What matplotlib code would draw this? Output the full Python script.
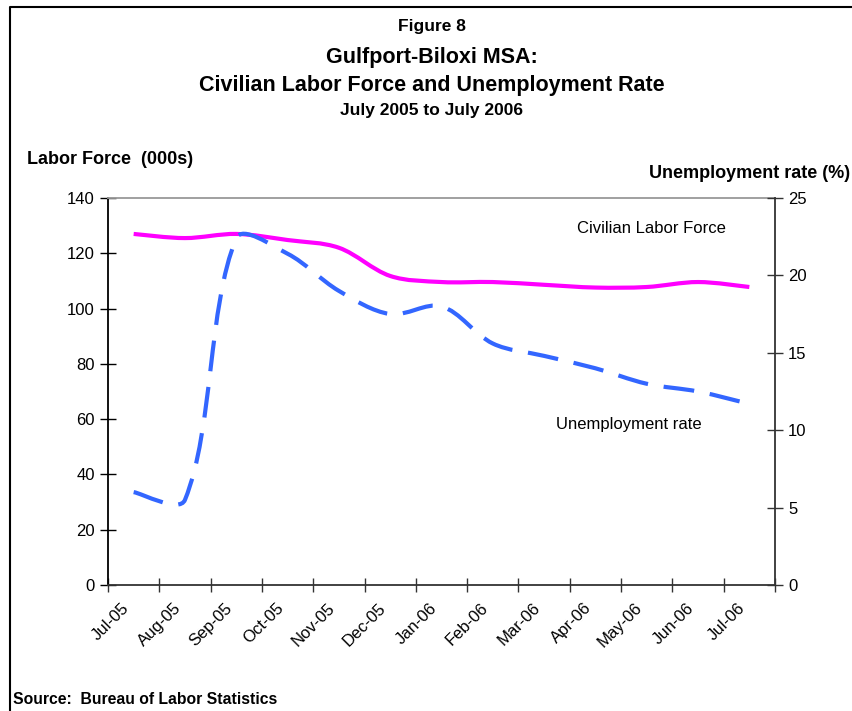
import numpy as np
import matplotlib
matplotlib.use("Agg")
import matplotlib.pyplot as plt
from matplotlib.path import Path
from matplotlib.patches import PathPatch
from matplotlib.lines import Line2D
from matplotlib.transforms import ScaledTranslation

plt.rcParams['font.family'] = ['Liberation Sans', 'DejaVu Sans']

# ---- data ----
months = ['Jul-05', 'Aug-05', 'Sep-05', 'Oct-05', 'Nov-05', 'Dec-05', 'Jan-06',
          'Feb-06', 'Mar-06', 'Apr-06', 'May-06', 'Jun-06', 'Jul-06']
labor_force = [127.0, 125.5, 127.0, 124.8, 122.0, 111.8, 109.6, 109.6, 108.6,
               107.6, 107.8, 109.6, 107.8]
unemp_rate = [6.0, 5.5, 22.4, 21.4, 19.0, 17.5, 18.0, 15.6, 14.8, 14.0, 13.0,
              12.5, 11.7]

lf_ticks = [0, 20, 40, 60, 80, 100, 120, 140]
ur_ticks = [0, 5, 10, 15, 20, 25]

FIG_W, FIG_H = 853, 711
AX_L, AX_R, AX_T, AX_B = 108, 775, 198, 585


def smooth_path(xs, ys, sx, sy):
    """Excel-like smoothed line: cubic Bezier through the points, tangent
    lengths proportional to adjacent segment lengths (on screen)."""
    xs = np.asarray(xs, float)
    ys = np.asarray(ys, float)
    n = len(xs)
    d = np.hypot(np.diff(xs) * sx, np.diff(ys) * sy)
    out_c, in_c = [], []
    for i in range(n):
        i0 = max(i - 1, 0)
        i1 = min(i + 1, n - 1)
        tx, ty = xs[i1] - xs[i0], ys[i1] - ys[i0]
        dl = d[i - 1] if i > 0 else d[0]
        dr = d[i] if i < n - 1 else d[-1]
        fo = dr / (dl + dr) / 3.0
        fi = dl / (dl + dr) / 3.0
        if i == 0 or i == n - 1:
            fo = fi = 1 / 6.0
        out_c.append((xs[i] + tx * fo, ys[i] + ty * fo))
        in_c.append((xs[i] - tx * fi, ys[i] - ty * fi))
    verts = [(xs[0], ys[0])]
    codes = [Path.MOVETO]
    for i in range(n - 1):
        verts += [out_c[i], in_c[i + 1], (xs[i + 1], ys[i + 1])]
        codes += [Path.CURVE4] * 3
    return Path(verts, codes)


fig = plt.figure(figsize=(FIG_W / 100, FIG_H / 100), dpi=100)
ax = fig.add_axes([AX_L / FIG_W, 1 - AX_B / FIG_H, (AX_R - AX_L) / FIG_W, (AX_B - AX_T) / FIG_H])
ax2 = ax.twinx()

x = np.arange(len(months))
ax.set_xlim(-0.5, len(months) - 0.5)
ax.set_ylim(0, 140)
ax2.set_ylim(0, 25)

sx = (AX_R - AX_L) / len(months)
sy_lf = (AX_B - AX_T) / 140.0
sy_ur = (AX_B - AX_T) / 25.0

lf_patch = PathPatch(smooth_path(x, labor_force, sx, sy_lf), fill=False, edgecolor='#FF00FF',
                     linewidth=3.0, capstyle='butt', joinstyle='round')
ax.add_patch(lf_patch)

ur_patch = PathPatch(smooth_path(x, unemp_rate, sx, sy_ur), fill=False, edgecolor='#3366FF',
                     linewidth=3.0, linestyle=(0, (7.4, 3.8)), capstyle='butt')
ax2.add_patch(ur_patch)

ax.set_yticks(lf_ticks)
ax.set_yticklabels([str(t) for t in lf_ticks])
ax2.set_yticks(ur_ticks)
ax2.set_yticklabels([str(t) for t in ur_ticks])

ax.set_xticks(np.arange(len(months) + 1) - 0.5)
ax.set_xticklabels([])
ax.set_xticks(x, minor=True)
ax.set_xticklabels(months, minor=True, rotation=45, ha='right',
                   rotation_mode='anchor', fontsize=12)
ax.tick_params(axis='x', which='major', direction='inout', length=10, width=1,
               color='#333333')
ax.tick_params(axis='x', which='minor', length=0, pad=11)
ax.tick_params(axis='y', direction='inout', length=11, width=1, labelsize=12,
               pad=4, color='black')
ax2.tick_params(axis='y', direction='inout', length=11, width=1, labelsize=12,
                pad=4, color='#333333')

for lab in ax.get_xticklabels(minor=True):
    lab.set_transform(lab.get_transform() + ScaledTranslation(-0.12, 0, fig.dpi_scale_trans))

ax2.spines['top'].set_visible(False)
ax2.spines['left'].set_visible(False)
ax2.spines['bottom'].set_visible(False)
ax.spines['right'].set_visible(False)
ax2.spines['right'].set_color('#333333')
ax2.spines['right'].set_linewidth(1.3)
ax.spines['left'].set_color('black')
ax.spines['bottom'].set_color('#333333')
ax.spines['left'].set_linewidth(1.3)
ax.spines['bottom'].set_linewidth(1.3)
ax.spines['top'].set_color('#999999')
ax.spines['top'].set_linewidth(1.3)

ax.text(8.64, 128.8, 'Civilian Labor Force', fontsize=12, va='center', ha='left')
ax.text(8.24, 57.9, 'Unemployment rate', fontsize=12, va='center', ha='left')

# titles
cx = 432 / FIG_W
fig.text(cx, 1 - 27 / FIG_H, 'Figure 8', ha='center', va='center', fontsize=12.5, fontweight='bold')
fig.text(cx, 1 - 58 / FIG_H, 'Gulfport-Biloxi MSA:', ha='center', va='center', fontsize=15.5, fontweight='bold')
fig.text(cx, 1 - 86 / FIG_H, 'Civilian Labor Force and Unemployment Rate', ha='center', va='center',
         fontsize=15.5, fontweight='bold')
fig.text(cx, 1 - 111 / FIG_H, 'July 2005 to July 2006', ha='center', va='center', fontsize=12.5, fontweight='bold')

fig.text(27 / FIG_W, 1 - 159 / FIG_H, 'Labor Force  (000s)', ha='left', va='center', fontsize=13, fontweight='bold')
fig.text(850 / FIG_W, 1 - 173 / FIG_H, 'Unemployment rate (%)', ha='right', va='center', fontsize=13, fontweight='bold')
fig.text(13 / FIG_W, 1 - 699 / FIG_H, 'Source:  Bureau of Labor Statistics', ha='left', va='center',
         fontsize=11.3, fontweight='bold')

# outer border (left and top edges visible)
fig.add_artist(Line2D([10 / FIG_W, 10 / FIG_W, 1.0], [0.0, 1 - 7 / FIG_H, 1 - 7 / FIG_H],
                      transform=fig.transFigure, color='black', linewidth=1.5))

fig.savefig('out.png', dpi=100, facecolor='white')
